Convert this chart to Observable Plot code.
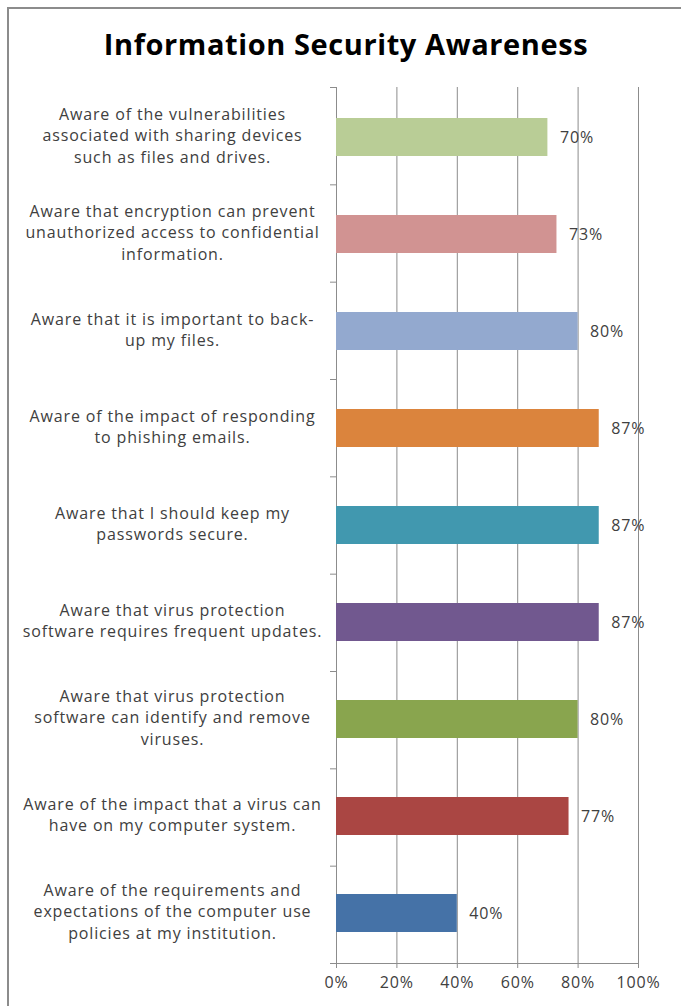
<!DOCTYPE html>
<html>
<head>
<meta charset="utf-8">
<script src="https://cdn.jsdelivr.net/npm/d3@7"></script>
<script src="https://cdn.jsdelivr.net/npm/@observablehq/plot@0.6"></script>
<style>
  html, body { margin: 0; padding: 0; background: #fff; overflow: hidden; }
  #wrap { position: relative; width: 681px; height: 1006px; overflow: hidden; }
  #frame { position: absolute; left: 7px; top: 7px; width: 720px; height: 1100px; border: 2px solid #8c8c8c; box-sizing: border-box; pointer-events: none; }
  #title { position: absolute; left: 8px; width: 676px; top: 24px; text-align: center; font-family: "Open Sans", sans-serif; font-weight: bold; font-size: 29px; color: #000; line-height: 40px; letter-spacing: 0.6px; }
  #chart { position: absolute; left: 0; top: 0; }
</style>
</head>
<body>
<div id="wrap">
  <div id="chart"></div>
  <div id="frame"></div>
  <div id="title">Information Security Awareness</div>
</div>
<script>
const categories = [
  "Aware of the vulnerabilities\nassociated with sharing devices\nsuch as files and drives.",
  "Aware that encryption can prevent\nunauthorized access to confidential\ninformation.",
  "Aware that it is important to back-\nup my files.",
  "Aware of the impact of responding\nto phishing emails.",
  "Aware that I should keep my\npasswords secure.",
  "Aware that virus protection\nsoftware requires frequent updates.",
  "Aware that virus protection\nsoftware can identify and remove\nviruses.",
  "Aware of the impact that a virus can\nhave on my computer system.",
  "Aware of the requirements and\nexpectations of the computer use\npolicies at my institution."
];
const values = [70, 73, 80, 87, 87, 87, 80, 77, 40];
const colors = ["#B9CD96", "#D19392", "#93A9CF", "#DB843D", "#4198AF", "#71588F", "#89A54E", "#AA4643", "#4572A7"];
const xTicks = [0, 20, 40, 60, 80, 100];

const data = categories.map((c, i) => ({cat: c, value: values[i]}));

const W = 681, H = 1006;
const mTop = 87, mBottom = 43, mLeft = 336, mRight = 43;
const gridColor = "#8c8c8c";
const textColor = "#404040";
const font = "'Open Sans', sans-serif";

function boundaryTicks(index, scales, values, dimensions) {
  const d = dimensions || {width: W, height: H, marginTop: mTop, marginBottom: mBottom, marginLeft: mLeft, marginRight: mRight};
  const g = d3.create("svg:g").attr("stroke", gridColor).attr("stroke-width", 1);
  const n = categories.length;
  const top = d.marginTop, bottom = d.height - d.marginBottom;
  const step = (bottom - top) / n;
  for (let i = 0; i < n; i++) {
    const y = top + i * step;
    g.append("line").attr("x1", d.marginLeft - 6).attr("x2", d.marginLeft).attr("y1", y + 0.5).attr("y2", y + 0.5);
  }
  g.append("line").attr("x1", d.marginLeft - 6).attr("x2", d.width - d.marginRight)
    .attr("y1", bottom + 0.5).attr("y2", bottom + 0.5);
  return g.node();
}

const plot = Plot.plot({
  width: W,
  height: H,
  marginTop: mTop,
  marginBottom: mBottom,
  marginLeft: mLeft,
  marginRight: mRight,
  style: {fontFamily: font, fontSize: "16px", color: textColor, background: "transparent", letterSpacing: "0.85px"},
  x: {domain: [0, 100], axis: null},
  y: {domain: categories, axis: null, paddingInner: 0.61, paddingOuter: 0.305},
  color: {domain: categories, range: colors},
  marks: [
    Plot.ruleX(xTicks.filter(t => t > 0), {stroke: gridColor, strokeWidth: 1}),
    Plot.ruleX([0], {stroke: gridColor, strokeWidth: 1}),
    boundaryTicks,
    Plot.barX(data, {x: "value", y: "cat", fill: "cat"}),
    Plot.text(data, {x: "value", y: "cat", text: d => d.value + "%", dx: 12, textAnchor: "start", fill: textColor, fontSize: 16}),
    Plot.text(data, {y: "cat", text: "cat", frameAnchor: "left", dx: -164, dy: -3, textAnchor: "middle", lineHeight: 1.35, fill: textColor, fontSize: 16}),
    Plot.axisX(xTicks, {tickFormat: d => d + "%", tickSize: 5, tickPadding: 8, stroke: gridColor, color: textColor, fill: textColor, fontSize: 16, label: null})
  ]
});
document.getElementById("chart").appendChild(plot);
</script>
</body>
</html>
